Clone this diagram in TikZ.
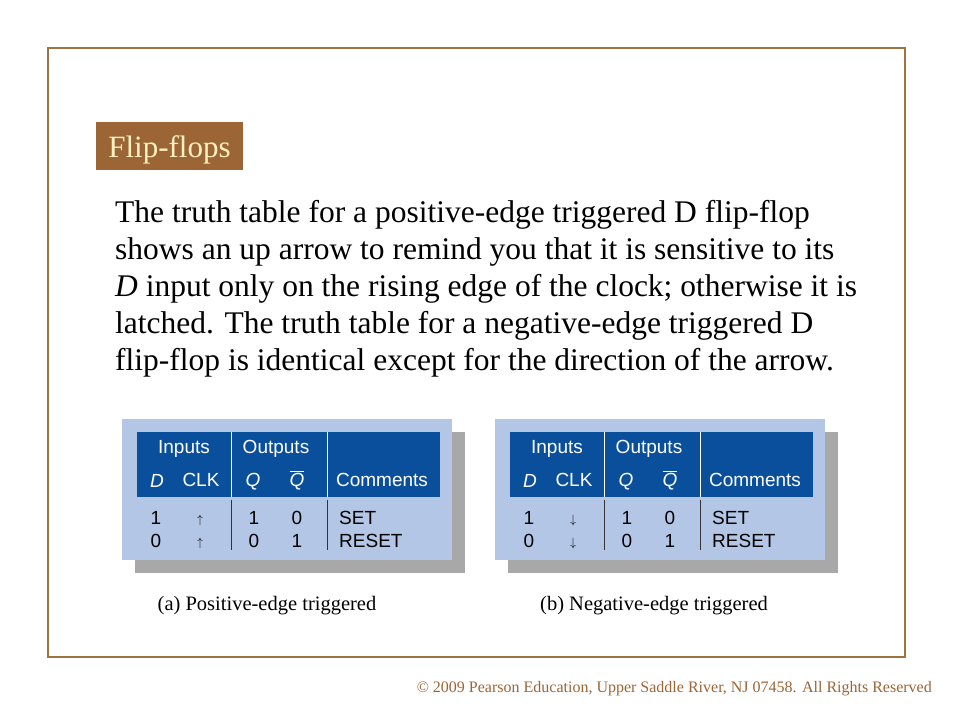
\documentclass[tikz,border=0pt]{standalone}
\usepackage{fontspec}
\setmainfont{Liberation Serif}
\setsansfont{Liberation Sans}
\usetikzlibrary{positioning}
\definecolor{framebrown}{HTML}{9E7440}
\definecolor{titlebrown}{HTML}{9C6536}
\definecolor{titletext}{HTML}{FFF0C0}
\definecolor{tablebg}{HTML}{B3C6E6}
\definecolor{headblue}{HTML}{0A4F9C}
\definecolor{shadowgray}{HTML}{A8A8A8}
\tikzset{
  body/.style={anchor=base west, inner sep=0pt, font=\fontsize{31.5}{36}\selectfont},
  cell/.style={anchor=base, inner sep=0pt, font=\sffamily\fontsize{19}{22}\selectfont},
  headcell/.style={cell, text=white},
  clkarrow/.style={anchor=base, inner sep=0pt, font=\fontsize{13}{14}\selectfont},
  caption/.style={anchor=base, inner sep=0pt, font=\fontsize{20.5}{24}\selectfont},
}
\newcommand{\fftable}[2]{% #1 x offset, #2 arrow
  \begin{scope}[xshift=#1pt]
  \fill[shadowgray] (135,432) rectangle (465,573);
  \fill[tablebg] (122,419) rectangle (452,560);
  \fill[headblue] (137,432) rectangle (440,497);
  \draw[white, line width=1pt] (231,432) -- (231,497) (327,432) -- (327,497);
  \draw[black!80, line width=0.8pt] (231,500) -- (231,550) (327,500) -- (327,550);
  \node[headcell] at (184,453) {Inputs};
  \node[headcell] at (276,453) {Outputs};
  \node[headcell] at (157,487) {\itshape D};
  \node[headcell] at (201,486) {CLK};
  \node[headcell] at (253,486) {\itshape Q};
  \node[headcell] at (297,486) {$\overline{\mbox{\itshape Q}}$};
  \node[headcell] at (382,486) {Comments};
  \node[cell] at (156,524) {1};
  \node[clkarrow] at (200,523) {#2};
  \node[cell] at (254,524) {1};
  \node[cell] at (297,524) {0};
  \node[cell, anchor=base west] at (339,524) {SET};
  \node[cell] at (156,547) {0};
  \node[clkarrow] at (200,546) {#2};
  \node[cell] at (254,547) {0};
  \node[cell] at (297,547) {1};
  \node[cell, anchor=base west] at (339,547) {RESET};
  \end{scope}}
\begin{document}
\begin{tikzpicture}[x=1pt, y=-1pt]
\useasboundingbox[fill=white] (0,0) rectangle (960,720);
\draw[framebrown, line width=2pt] (48,48) rectangle (905,657);
% title
\fill[titlebrown] (96,122) rectangle (243,170);
\node[anchor=base, inner sep=0pt, text=titletext, font=\fontsize{31}{34}\selectfont] (title) at (169.5,157) {Flip-flops};
% paragraph
\node[body] (l1) at (115,222) {The truth table for a positive-edge triggered D flip-flop};
\node[body] (l2) at (115,259) {shows an up arrow to remind you that it is sensitive to its};
\node[body] (l3) at (115,296) {\textit{D} input only on the rising edge of the clock; otherwise it is};
\node[body] (l4) at (115,333) {latched. The truth table for a negative-edge triggered D};
\node[body] (l5) at (115,370) {flip-flop is identical except for the direction of the arrow.};
% tables
\fftable{0}{$\uparrow$}
\fftable{373}{$\downarrow$}
\node[caption] (capa) at (267,610) {(a) Positive-edge triggered};
\node[caption] (capb) at (654,610) {(b) Negative-edge triggered};
\node[anchor=base east, inner sep=0pt, text=titlebrown, font=\fontsize{16}{18}\selectfont] (copy) at (932,692) {\textcopyright{} 2009 Pearson Education, Upper Saddle River, NJ 07458. All Rights Reserved};
\end{tikzpicture}
\end{document}
